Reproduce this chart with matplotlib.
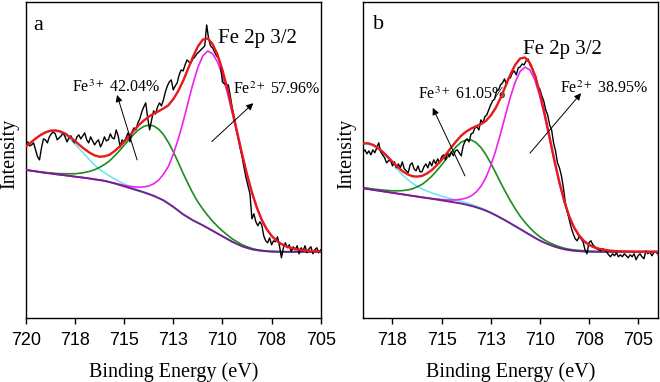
import numpy as np
import matplotlib
matplotlib.use('Agg')
import matplotlib.pyplot as plt

plt.rcParams['mathtext.fontset'] = 'stix'

# ---------------- Panel a data ----------------
a_fit_range = (720.0, 705.0)   # fit curves sampled every 0.25 eV
a_raw_range = (720.0, 705.0)   # raw spectrum sampled every 0.1 eV

a_bg = [148, 147.2, 146.5, 145.7, 145, 144.4, 143.7, 143.1, 142.5, 141.9,
        141.2, 140.6, 140, 139.3, 138.5, 137.8, 137, 135.8, 134.5, 133,
        131.5, 130, 128.5, 127, 125.5, 123.8, 122, 119.8, 117.5, 114.3,
        111, 107.3, 103.5, 100.5, 97.5, 95, 92.5, 89.8, 87, 84.3,
        81.5, 78.8, 76, 73.7, 71.5, 69.9, 68.5, 67.6, 67, 66.5,
        66.2, 66.1, 66, 66, 66, 66, 66, 66, 66, 66, 66]
a_sat = [23.2, 28, 32.7, 36.9, 40.2, 42.3, 43, 42.3, 40.2, 36.9,
         32.7, 28, 23.2, 18.6, 14.4, 10.7, 8.2, 6.2, 4.7, 3.4,
         2.4, 1.7, 1.2, 0.8, 0.5, 0.3, 0.2] + [0] * 34
a_fe3 = [0, 0, 0.1, 0.2, 0.3, 0.5, 0.8, 1.1, 1.6, 2.2,
         2.9, 4, 5.4, 7.2, 9.6, 12.6, 16.3, 21, 27, 33.8,
         41, 48.3, 55.2, 61.3, 65.9, 69, 70, 69, 65.9, 61.3,
         55.2, 48.3, 41, 33.8, 27, 21, 16.3, 12.6, 9.6, 7.2,
         5.4, 4, 2.9, 2.2, 1.6, 1.1, 0.8, 0.5, 0.3, 0.2, 0.1] + [0] * 10
a_fe2 = [0] * 18 + [0.3, 0.6, 1, 1.6, 2.5, 3.7, 5.4, 8, 12, 17.8,
                    26, 37, 52.5, 71.2, 92.4, 114.6, 136.5, 155.4, 169.5, 177.1,
                    177.3, 171.8, 161.1, 146.5, 128.9, 109.8, 90.8, 72.6, 56.2, 42.2,
                    30.6, 22, 15.7, 11, 7.7, 5.4, 3.7, 2.6, 1.8, 1.2,
                    0.8, 0.5, 0.3]
a_raw = [174, 176, 172, 173, 175, 168, 161, 158, 170, 179,
         178, 175, 181, 184, 186, 184, 178, 180, 182, 185,
         181, 176, 180, 182, 177, 175, 181, 183, 179, 182,
         185, 178, 175, 181, 177, 173, 176, 178, 171, 175,
         181, 177, 178, 184, 180, 179, 188, 182, 171, 178,
         176, 180, 185, 176, 186, 190, 188, 195, 199, 206,
         211, 215, 200, 188, 198, 207, 204, 211, 215, 212,
         218, 226, 232, 236, 238, 228, 232, 235, 243, 248,
         247, 253, 258, 256, 255, 259, 261, 264, 266, 268,
         270, 272, 293, 279, 272, 270, 266, 262, 260, 254,
         236, 234, 233, 233, 222, 210, 200, 190, 180, 170,
         161, 150, 140, 132, 124, 99, 104, 96, 92, 96,
         93, 82, 77, 75, 80, 73, 77, 76, 81, 72,
         60, 70, 75, 70, 73, 66, 71, 68, 72, 64,
         70, 67, 72, 65, 69, 71, 64, 68, 70, 65, 68]

# ---------------- Panel b data ----------------
b_fit_range = (719.0, 704.0)
b_raw_range = (719.0, 704.0)

b_bg = [129.5, 128.8, 128, 127.3, 126.5, 125.8, 125, 124.3, 123.5, 122.8,
        122, 121.3, 120.5, 119.8, 119, 118.3, 117.5, 116.7, 115.9, 115.1,
        114.3, 113.2, 112, 110.6, 109, 107.2, 105, 102.6, 100, 97.3,
        94.5, 91.6, 88.7, 85.8, 82.9, 80, 77.3, 75, 73, 71.2,
        69.7, 68.5, 67.6, 67, 66.6, 66.3, 66.1] + [66] * 14
b_sat = [44.2, 45, 44.2, 41.9, 38.3, 33.9, 29.1, 24.2, 19.6, 15.9,
         12.8, 10.3, 8.5, 7, 5.9, 5, 4.2, 3.6, 3.1, 2.6,
         2.2, 1.8, 1.5, 1.2, 0.9, 0.7, 0.5, 0.3, 0.2, 0.1] + [0] * 31
b_fe3 = [0.8, 0.8, 0.9, 1.0, 1.3, 1.6, 2.0, 2.7, 3.7, 5.0,
         6.9, 9.6, 12.9, 17.3, 22.6, 28.7, 35.4, 42.6, 49.8, 56.2,
         61.4, 64.8, 66, 64.8, 61.4, 56.2, 49.8, 42.6, 35.4, 28.7,
         22.6, 17.3, 12.9, 9.6, 6.9, 5.0, 3.7, 2.7, 2.0, 1.6,
         1.3, 1.0, 0.9, 0.8, 0.8, 0.7, 0.5, 0.4, 0.3, 0.2, 0.1] + [0] * 10
b_fe2 = [0] * 13 + [0.2, 0.3, 0.5, 0.8, 1.2, 1.9, 2.8, 4.3, 6.5, 9.8,
                    15, 22.4, 32.8, 47, 64.3, 84.2, 105.4, 126.2, 144.3, 157.9,
                    165, 165, 157.9, 144.3, 126.2, 105.4, 84.2, 64.3, 47, 32.8,
                    22.4, 15, 9.8, 6.5, 4.3, 2.8, 1.9, 1.2, 0.8, 0.5,
                    0.3, 0.2, 0.1] + [0] * 5
b_raw = [166, 168, 164, 167, 163, 168, 165, 170, 175, 166,
         163, 160, 155, 157, 158, 152, 156, 150, 154, 150,
         156, 149, 147, 145, 153, 155, 149, 147, 152, 146,
         146, 151, 154, 150, 156, 152, 158, 154, 159, 155,
         161, 163, 158, 165, 161, 166, 162, 167, 168, 165,
         162, 172, 177, 179, 176, 184, 185, 190, 191, 188,
         198, 195, 201, 203, 208, 213, 217, 219, 227, 228,
         233, 235, 239, 234, 240, 240, 245, 247, 243, 250,
         251, 254, 253, 257, 259, 253, 250, 244, 241, 231,
         229, 222, 217, 208, 203, 193, 188, 175, 167, 155,
         150, 142, 130, 115, 106, 98, 90, 84, 79, 77,
         81, 79, 76, 68, 64, 75, 77, 73, 71, 69,
         68, 67, 69, 68, 66, 63, 61, 64, 62, 65,
         61, 63, 61, 64, 62, 60, 63, 61, 64, 58,
         62, 64, 61, 59, 67, 64, 66, 62, 65, 66, 64]

# ---------------- labels ----------------
a_ticks = [720, 717.5, 715, 712.5, 710, 707.5, 705]
a_ticklabels = ['720', '718', '715', '713', '710', '708', '705']
b_ticks = [717.5, 715, 712.5, 710, 707.5, 705]
b_ticklabels = ['718', '715', '713', '710', '708', '705']
a_fe3_label = 'Fe$^{3+}$ 42.04%'
a_fe2_label = 'Fe$^{2+}$ 57.96%'
b_fe3_label = 'Fe$^{3+}$ 61.05%'
b_fe2_label = 'Fe$^{2+}$ 38.95%'

C_RED = '#e8191c'
C_MAG = '#ee22ee'
C_GRN = '#1d8c1d'
C_CYN = '#70e6f2'
C_PUR = '#74208e'

SERIF = ['Liberation Serif', 'DejaVu Serif']
TICKF = ['Liberation Sans', 'DejaVu Sans']

fig = plt.figure(figsize=(6.6, 3.82), dpi=100)
axa = fig.add_axes([0.039, 0.1683, 0.447, 0.8265])
axb = fig.add_axes([0.55, 0.1683, 0.4465, 0.8265])


def draw(ax, fit_range, raw_range, bg, sat, fe3, fe2, raw, xlim, ticks, ticklabels):
    bg = np.asarray(bg, float)
    sat = np.asarray(sat, float)
    fe3 = np.asarray(fe3, float)
    fe2 = np.asarray(fe2, float)
    e_fit = np.linspace(fit_range[0], fit_range[1], len(bg))
    e_raw = np.linspace(raw_range[0], raw_range[1], len(raw))
    ax.plot(e_fit, bg + sat, color=C_CYN, lw=1.2, zorder=2)
    ax.plot(e_fit, bg + fe3, color=C_GRN, lw=1.2, zorder=2)
    ax.plot(e_fit, bg + fe2, color=C_MAG, lw=1.2, zorder=2)
    ax.plot(e_fit, bg, color=C_PUR, lw=1.4, zorder=3)
    ax.plot(e_raw, raw, color='k', lw=1.0, zorder=4)
    ax.plot(e_fit, bg + sat + fe3 + fe2, color=C_RED, lw=1.7, zorder=5)
    ax.set_xlim(*xlim)
    ax.set_ylim(0, 316)
    ax.set_yticks([])
    ax.set_xticks(ticks)
    ax.set_xticklabels(ticklabels, fontfamily=TICKF, fontsize=13)
    ax.tick_params(axis='x', direction='out', length=4, width=1, pad=6.5)
    for s in ax.spines.values():
        s.set_linewidth(1.0)
    ax.set_xlabel('Binding Energy (eV)', fontfamily=SERIF, fontsize=14.5)
    ax.xaxis.set_label_coords(0.5, -0.142)
    ax.set_ylabel('Intensity', fontfamily=SERIF, fontsize=14.5)
    ax.yaxis.set_label_coords(-0.021, 0.52)


def arrow(ax, tail, tip):
    ax.annotate('', xy=tip, xytext=tail,
                arrowprops=dict(arrowstyle='-|>', color='k', lw=0.7,
                                mutation_scale=10, shrinkA=0, shrinkB=0),
                zorder=6)


draw(axa, a_fit_range, a_raw_range, a_bg, a_sat, a_fe3, a_fe2, a_raw,
     (720, 705), a_ticks, a_ticklabels)
draw(axb, b_fit_range, b_raw_range, b_bg, b_sat, b_fe3, b_fe2, b_raw,
     (719, 704), b_ticks, b_ticklabels)

# panel a annotations
axa.text(719.63, 288, 'a', fontfamily=SERIF, fontsize=16)
axa.text(710.22, 275, 'Fe 2p 3/2', fontfamily=SERIF, fontsize=15)
axa.text(717.65, 226, a_fe3_label, fontfamily=SERIF, fontsize=11.5)
axa.text(709.46, 224, a_fe2_label, fontfamily=SERIF, fontsize=11.5)
arrow(axa, (714.34, 158), (715.36, 223))
arrow(axa, (710.54, 176.3), (708.43, 214.7))

# panel b annotations
axb.text(718.48, 288.7, 'b', fontfamily=SERIF, fontsize=16)
axb.text(710.84, 264, 'Fe 2p 3/2', fontfamily=SERIF, fontsize=15)
axb.text(716.19, 219, b_fe3_label, fontfamily=SERIF, fontsize=11.5)
axb.text(708.97, 224.7, b_fe2_label, fontfamily=SERIF, fontsize=11.5)
arrow(axb, (713.81, 142), (715.45, 210))
arrow(axb, (710.5, 164.7), (707.9, 224.7))

fig.savefig('out.png', dpi=100)
